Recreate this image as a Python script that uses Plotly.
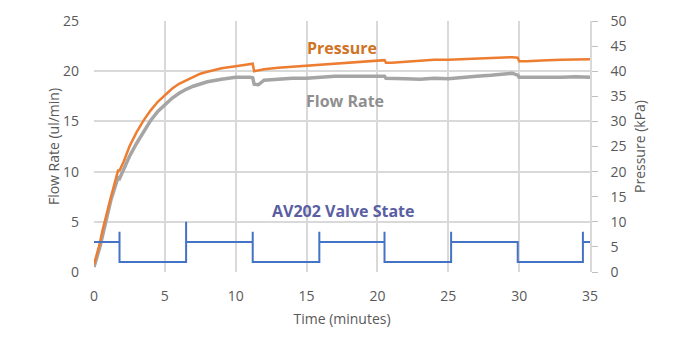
import plotly.graph_objects as go

# Time base for the logged signals (minutes)
time_min = [0, 0.2, 0.4, 0.6, 0.9, 1.2, 1.6, 1.7, 1.8, 2.1, 2.5, 3.0, 3.5, 4.0, 4.5,
            5.0, 5.5, 6.0, 6.5, 7.0, 7.5, 8.0, 9.0, 10.0, 11.0, 11.2, 11.3, 11.6,
            12, 13, 14, 15, 16, 17, 18, 19, 20, 20.5, 20.6, 21, 22, 23, 24, 25,
            26, 27, 28, 29, 29.5, 29.9, 30.0, 30.5, 31, 32, 33, 34, 35]

# Inlet pressure (kPa)
pressure_kpa = [1.5, 3.5, 5.6, 8.3, 11.8, 15.0, 19.2, 20.2, 20.2, 22.0, 25.0, 27.8,
                30.2, 32.2, 33.9, 35.3, 36.5, 37.5, 38.2, 38.9, 39.5, 39.9, 40.6,
                41.0, 41.4, 41.5, 40.0, 40.2, 40.4, 40.7, 40.9, 41.2, 41.4, 41.6,
                41.8, 42.0, 42.2, 42.2, 41.7, 41.7, 41.9, 42.1, 42.3, 42.3, 42.4,
                42.5, 42.7, 42.8, 42.8, 42.7, 42.0, 42.0, 42.1, 42.2, 42.3, 42.4,
                42.4]

# Measured flow rate (ul/min)
flow_ul_min = [0.5, 1.4, 2.4, 3.6, 5.6, 7.2, 9.0, 9.4, 9.3, 10.3, 11.5, 12.8, 14.0,
               15.1, 16.0, 16.7, 17.3, 17.8, 18.2, 18.5, 18.75, 18.95, 19.2, 19.4,
               19.4, 19.35, 18.7, 18.65, 19.1, 19.2, 19.3, 19.3, 19.4, 19.5, 19.5,
               19.5, 19.5, 19.5, 19.3, 19.3, 19.25, 19.2, 19.3, 19.25, 19.4, 19.5,
               19.6, 19.7, 19.8, 19.6, 19.4, 19.4, 19.4, 19.35, 19.4, 19.45, 19.4]

# AV202 valve state trace (switch times in minutes, level on the kPa axis)
valve_time = [0, 1.8, 1.8, 1.8, 6.5, 6.5, 6.5, 11.2, 11.2, 11.2, 15.9, 15.9, 15.9,
              20.5, 20.5, 20.5, 25.2, 25.2, 25.2, 29.9, 29.9, 34.5, 34.5, 34.5, 35]
valve_level = [6, 6, 8, 2, 2, 10, 6, 6, 8, 2, 2, 8, 6,
               6, 8, 2, 2, 8, 6, 6, 2, 2, 8, 6, 6]

x_ticks = [0, 5, 10, 15, 20, 25, 30, 35]

FONT = "Open Sans, DejaVu Sans, sans-serif"
TXT = "#595959"
GRID = "#D9D9D9"

fig = go.Figure()

fig.add_trace(go.Scatter(
    x=time_min, y=flow_ul_min, mode="lines", name="Flow Rate",
    line=dict(color="#A5A5A5", width=3.5), yaxis="y"))

fig.add_trace(go.Scatter(
    x=time_min, y=pressure_kpa, mode="lines", name="Pressure",
    line=dict(color="#ED7D31", width=2.5), yaxis="y2"))

fig.add_trace(go.Scatter(
    x=valve_time, y=valve_level, mode="lines", name="AV202 Valve State",
    line=dict(color="#4472C4", width=2), yaxis="y2"))

fig.update_layout(
    width=700, height=348,
    margin=dict(l=94, r=110, t=21, b=75.5),
    paper_bgcolor="white", plot_bgcolor="white",
    showlegend=False,
    font=dict(family=FONT, size=14, color=TXT),
    xaxis=dict(
        range=[0, 35], tickvals=x_ticks, showgrid=True, gridcolor=GRID, gridwidth=1.5,
        zeroline=False, showline=False, ticks="", ticklabelstandoff=14,
        title=dict(text="Time (minutes)", standoff=10,
                   font=dict(family=FONT, size=14, color=TXT)),
        tickfont=dict(family=FONT, size=14, color=TXT),
    ),
    yaxis=dict(
        range=[0, 25], dtick=5, showgrid=True, gridcolor=GRID, gridwidth=1.5,
        zeroline=False, showline=False, ticks="", ticklabelstandoff=14,
        title=dict(text="Flow Rate (ul/min)", standoff=0,
                   font=dict(family=FONT, size=14, color=TXT)),
        tickfont=dict(family=FONT, size=14, color=TXT),
    ),
    yaxis2=dict(
        range=[0, 50], dtick=5, overlaying="y", side="right", showgrid=False,
        zeroline=False, showline=True, linecolor=GRID, linewidth=1.5,
        ticks="outside", ticklen=6, tickcolor="#BFBFBF", ticklabelstandoff=10,
        title=dict(text="Pressure (kPa)", standoff=10,
                   font=dict(family=FONT, size=14, color=TXT)),
        tickfont=dict(family=FONT, size=14, color=TXT),
    ),
    annotations=[
        dict(x=17.5, y=22.3, xref="x", yref="y", text="<b>Pressure</b>", showarrow=False,
             font=dict(family=FONT, size=16, color="#CF7425")),
        dict(x=17.7, y=17.0, xref="x", yref="y", text="<b>Flow Rate</b>", showarrow=False,
             font=dict(family=FONT, size=16, color="#8F8F8F")),
        dict(x=17.6, y=6.05, xref="x", yref="y", text="<b>AV202 Valve State</b>",
             showarrow=False, font=dict(family=FONT, size=16, color="#5A5EA2")),
    ],
)

fig.write_html("out.html")
